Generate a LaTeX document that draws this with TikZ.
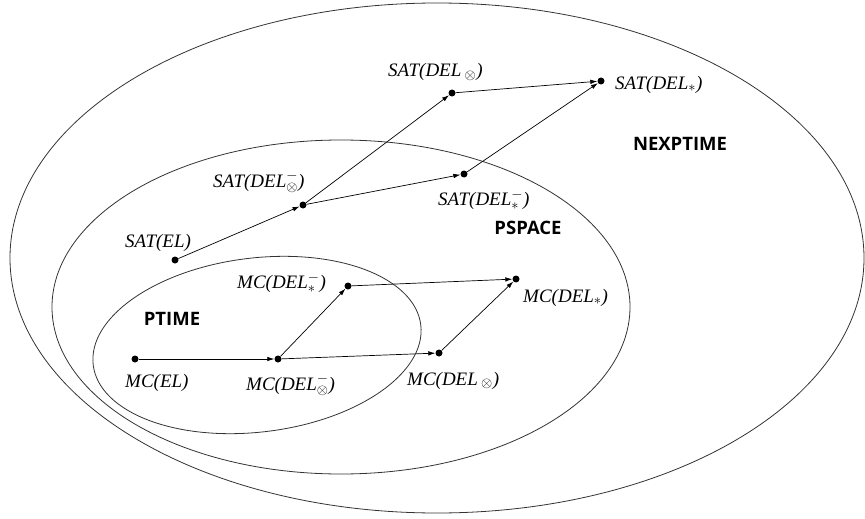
\documentclass[tikz,border=0pt]{standalone}
\usepackage{fontspec}
\setmainfont{Liberation Serif}
\newfontfamily\clsfont{Open Sans}
\usetikzlibrary{arrows.meta}
\tikzset{
  dot/.style={circle, fill=black, inner sep=0pt, minimum size=7pt},
  lbl/.style={anchor=base west, inner sep=0pt, font=\fontsize{19}{22}\selectfont\itshape},
  cls/.style={inner sep=0pt, font=\clsfont\bfseries\fontsize{18.5}{22}\selectfont},
  arr/.style={-{Latex[length=7pt,width=4.5pt]}, line width=0.7pt},
  ell/.style={line width=0.8pt, draw=black!80}
}
\begin{document}
\begin{tikzpicture}[x=1pt,y=-1pt]
\useasboundingbox (0,0) rectangle (865,519);
% classes
\draw[ell] (437,258) ellipse [x radius=427, y radius=255];
\draw[ell] (341,307) ellipse [x radius=289, y radius=167];
\draw[ell, rotate around={7:(257,345)}] (257,345) ellipse [x radius=165, y radius=87];
\node[cls] (nexp) at (680,144) {NEXPTIME};
\node[cls] (psp) at (528,228) {PSPACE};
\node[cls] (pt) at (172,319) {PTIME};
% points
\node[dot] (sd) at (452,93) {};
\node[dot] (ss) at (601,81) {};
\node[dot] (smd) at (303,205) {};
\node[dot] (sms) at (464,174) {};
\node[dot] (sel) at (175,260) {};
\node[dot] (mms) at (348,286) {};
\node[dot] (ms) at (516,279) {};
\node[dot] (mel) at (135,359) {};
\node[dot] (mmd) at (278,359) {};
\node[dot] (md) at (439,353) {};
% labels
\node[lbl] (sdl) at (388,77) {SAT(DEL\,$_{\otimes}$)};
\node[lbl] (ssl) at (615,89) {SAT(DEL$_{*}$)};
\node[lbl] (smdl) at (213,187) {SAT(DEL$^{-}_{\otimes}$)};
\node[lbl] (smsl) at (438,205) {SAT(DEL$^{-}_{*}$)};
\node[lbl] (sell) at (125,247) {SAT(EL)};
\node[lbl] (mmsl) at (237,288) {MC(DEL$^{-}_{*}$)};
\node[lbl] (msl) at (523,302) {MC(DEL$_{*}$)};
\node[lbl] (mell) at (125,387) {MC(EL)};
\node[lbl] (mmdl) at (246,390) {MC(DEL$^{-}_{\otimes}$)};
\node[lbl] (mdl) at (407,385) {MC(DEL\,$_{\otimes}$)};
% arrows
\draw[arr] (sel) -- (smd);
\draw[arr] (smd) -- (sd);
\draw[arr] (smd) -- (sms);
\draw[arr] (sd) -- (ss);
\draw[arr] (sms) -- (ss);
\draw[arr] (mel) -- (mmd);
\draw[arr] (mmd) -- (mms);
\draw[arr] (mmd) -- (md);
\draw[arr] (mms) -- (ms);
\draw[arr] (md) -- (ms);
\end{tikzpicture}
\end{document}
